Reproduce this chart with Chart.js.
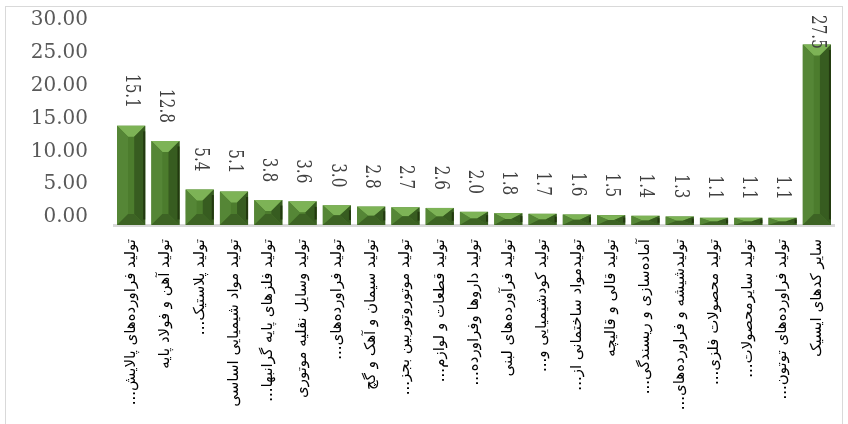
<!DOCTYPE html>
<html>
<head>
<meta charset="utf-8">
<script src="https://cdn.jsdelivr.net/npm/chart.js@4/dist/chart.umd.min.js"></script>
<style>
	html, body { margin: 0; padding: 0; background: #fff; }
	#wrap { width: 848px; height: 424px; position: relative; }
</style>
</head>
<body>
<div id="wrap"><canvas id="industryChart" width="848" height="424"></canvas></div>
<script>
// 업종별 비중 (원본 그림에서 읽은 값)
const categories = [
	'تولید فراورده\u200cهای پالایش...',
	'تولید آهن و فولاد پایه',
	'تولید پلاستیک...',
	'تولید مواد شیمیایی اساسی',
	'تولید فلزهای پایه گرانبها...',
	'تولید وسایل نقلیه موتوری',
	'تولید فراورده\u200cهای...',
	'تولید سیمان و آهک و گچ',
	'تولید موتوروتوربین بجز...',
	'تولید قطعات و لوازم...',
	'تولید داروها وفراورده...',
	'تولید فرآورده\u200cهای لبنی',
	'تولید کودشیمیایی و...',
	'تولیدمواد ساختمانی از...',
	'تولید قالی و قالیچه',
	'آماده\u200cسازی و ریسندگی...',
	'تولیدشیشه و فراورده\u200cهای...',
	'تولید محصولات فلزی...',
	'تولید سایرمحصولات...',
	'تولید فراورده\u200cهای توتون...',
	'سایر کدهای ایسیک'
];
const shares = [15.1, 12.8, 5.4, 5.1, 3.8, 3.6, 3.0, 2.8, 2.7, 2.6, 2.0, 1.8, 1.7, 1.6, 1.5, 1.4, 1.3, 1.1, 1.1, 1.1, 27.5];
const yMin = 0;
const yMax = 30;
const yStep = 5;

// 바깥 테두리
const framePlugin = {
	id: 'frame',
	beforeDraw(chart) {
		const ctx = chart.ctx;
		ctx.save();
		ctx.fillStyle = '#fff';
		ctx.fillRect(0, 0, chart.width, chart.height);
		ctx.strokeStyle = '#d9d9d9';
		ctx.lineWidth = 1;
		ctx.strokeRect(5.5, 6.5, 837, 440);
		ctx.restore();
	}
};

function poly(ctx, pts, color) {
	ctx.beginPath();
	ctx.moveTo(pts[0][0], pts[0][1]);
	for (let i = 1; i < pts.length; i++) ctx.lineTo(pts[i][0], pts[i][1]);
	ctx.closePath();
	ctx.fillStyle = color;
	ctx.fill();
}

// 막대 경사(bevel) 효과
const bevelPlugin = {
	id: 'bevel',
	afterDatasetsDraw(chart) {
		const ctx = chart.ctx;
		ctx.save();
		chart.getDatasetMeta(0).data.forEach(bar => {
			const w = bar.width;
			const x0 = bar.x - w / 2, x1 = bar.x + w / 2;
			const top = bar.y, bot = bar.base;
			const h = bot - top;
			const b = Math.min(11, w / 2);
			const bv = Math.min(11, h / 2);
			poly(ctx, [[x0, top], [x1, top], [x1 - b, top + bv], [x0 + b, top + bv]], '#7db356');
			poly(ctx, [[x0, top], [x0 + b, top + bv], [x0 + b, bot - bv], [x0, bot]], '#558636');
			poly(ctx, [[x1, top], [x1 - b, top + bv], [x1 - b, bot - bv], [x1, bot]], '#375c20');
			poly(ctx, [[x0, bot], [x0 + b, bot - bv], [x1 - b, bot - bv], [x1, bot]], '#3d6324');
			ctx.fillStyle = '#22380f';
			ctx.fillRect(x1 - 2, top + bv * 0.5, 2, h - bv);
		});
		ctx.restore();
	}
};

// 세로 데이터 라벨
const valueLabelPlugin = {
	id: 'valueLabels',
	afterDatasetsDraw(chart) {
		const ctx = chart.ctx;
		ctx.save();
		ctx.font = '20px "DejaVu Serif"';
		ctx.fillStyle = '#404040';
		ctx.textAlign = 'left';
		ctx.textBaseline = 'middle';
		const squeeze = 0.76;
		chart.getDatasetMeta(0).data.forEach((bar, i) => {
			const txt = shares[i].toFixed(1);
			const len = ctx.measureText(txt).width * squeeze;
			let start = bar.y - 18 - len;
			if (start < 15) start = 15;
			ctx.save();
			ctx.translate(bar.x, start);
			ctx.rotate(Math.PI / 2);
			ctx.scale(squeeze, 1);
			ctx.fillText(txt, 0, 0);
			ctx.restore();
		});
		ctx.restore();
	}
};

new Chart(document.getElementById('industryChart'), {
	type: 'bar',
	data: {
		labels: categories.map(c => c + '\u200F'),
		datasets: [
			{
				label: 'سهم',
				data: shares,
				backgroundColor: '#4c7c2d',
				borderWidth: 0,
				categoryPercentage: 1,
				barPercentage: 0.82
			}
		]
	},
	options: {
		responsive: false,
		animation: false,
		layout: {
			padding: { top: 28, right: 14, left: 0, bottom: 0 }
		},
		scales: {
			x: {
				grid: { display: false, drawTicks: false },
				border: { display: true, color: '#d9d9d9', width: 3 },
				ticks: {
					autoSkip: false,
					minRotation: 90,
					maxRotation: 90,
					padding: 14,
					color: '#000',
					font: { family: '"DejaVu Sans"', size: 15 }
				},
				afterFit(scale) {
					scale.height = 199;
					scale.paddingLeft = 0;
					scale.paddingRight = 0;
				}
			},
			y: {
				min: yMin,
				max: yMax,
				grid: { display: false, drawTicks: false },
				border: { display: false },
				ticks: {
					stepSize: yStep,
					padding: 26,
					labelOffset: -8,
					color: '#595959',
					font: { family: '"DejaVu Serif"', size: 20 },
					callback: v => v.toFixed(2)
				},
				afterFit(scale) {
					scale.width = 114;
					scale.paddingTop = 0;
					scale.paddingBottom = 0;
				}
			}
		},
		plugins: {
			legend: { display: false },
			tooltip: { enabled: false }
		}
	},
	plugins: [framePlugin, bevelPlugin, valueLabelPlugin]
});
</script>
</body>
</html>
